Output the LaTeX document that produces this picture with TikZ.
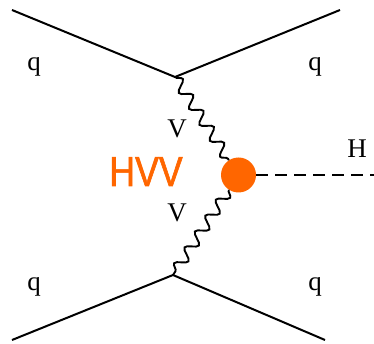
\documentclass[tikz,border=0pt]{standalone}
\usepackage{fontspec}
\setmainfont{Liberation Serif}
\newfontfamily\hvvfont[FakeStretch=0.85,FakeBold=1.5]{Liberation Sans}
\usepackage{xcolor}
\usetikzlibrary{decorations.pathmorphing}
\definecolor{hvvorange}{RGB}{255,102,0}
\tikzset{
  quark/.style={draw=black, line width=2pt},
  boson/.style={draw=black, line width=1.9pt, decorate, decoration={snake, segment length=19pt, amplitude=5.5pt}},
  higgs/.style={draw=black, line width=1.9pt, dash pattern=on 12pt off 7pt},
  blobnode/.style={circle, fill=hvvorange, minimum size=35pt, inner sep=0pt},
  partlabel/.style={font=\fontsize{27}{27}\selectfont, anchor=base, inner sep=0pt},
  vertexlabel/.style={font=\hvvfont\fontsize{42}{42}\selectfont, text=hvvorange, anchor=base, inner sep=0pt}
}
\begin{document}
\begin{tikzpicture}[x=1pt,y=-1pt]
  \useasboundingbox (0,0) rectangle (374,344);

  % vertices and free ends
  \coordinate (vtop) at (175,77);
  \coordinate (vbot) at (173,275);
  \coordinate (qtl) at (12,10);
  \coordinate (qtr) at (340,10);
  \coordinate (qbl) at (12,340);
  \coordinate (qbr) at (325,340);
  \coordinate (hend) at (374,175);
  \node[blobnode] (blob) at (238.5,175) {};

  % quark lines
  \draw[quark] (qtl) -- (vtop) -- (qtr);
  \draw[quark] (qbl) -- (vbot) -- (qbr);

  % vector bosons and Higgs
  \draw[boson] (vtop) -- (blob);
  \draw[boson] (blob) -- (vbot);
  \draw[higgs] (blob.east) -- (hend);

  % labels
  \node[partlabel] (lqtl) at (34,71) {q};
  \node[partlabel] (lqtr) at (315,71) {q};
  \node[partlabel] (lqbl) at (34,290) {q};
  \node[partlabel] (lqbr) at (315,290) {q};
  \node[partlabel] (lvtop) at (177,138) {V};
  \node[partlabel] (lvbot) at (177,222) {V};
  \node[partlabel] (lh) at (357,158) {H};
  \node[vertexlabel] (lhvv) at (146,186) {HVV};
\end{tikzpicture}
\end{document}
